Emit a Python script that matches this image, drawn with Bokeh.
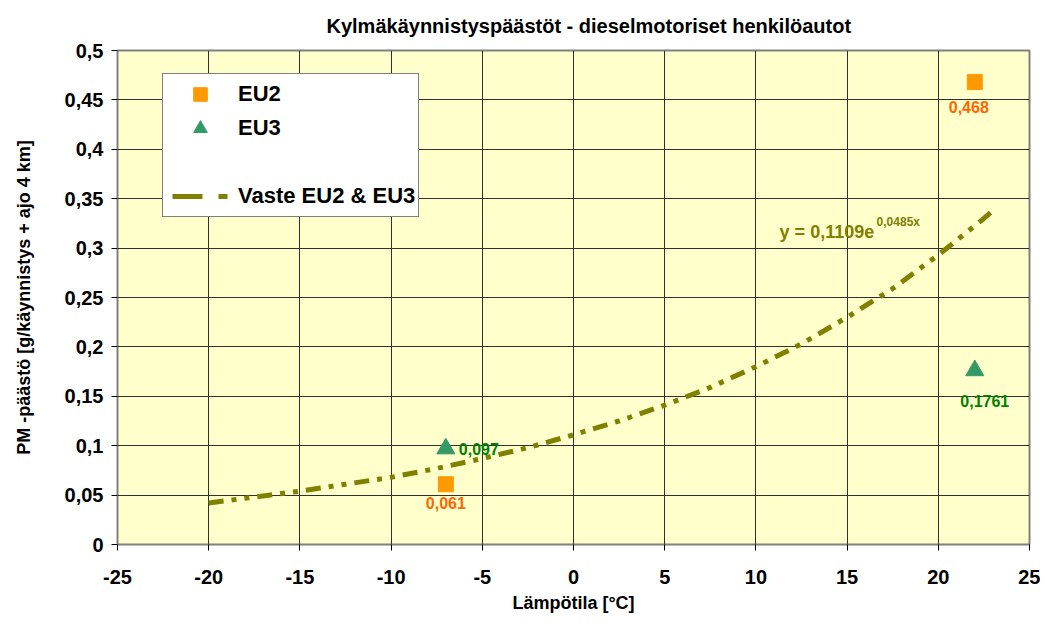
from bokeh.plotting import figure
from bokeh.models import (ColumnDataSource, Legend, LegendItem, Label, CustomJSTickFormatter,
                          FixedTicker, Range1d)
from bokeh.embed import file_html
from bokeh.resources import INLINE

# ---- data ----
eu2_temp = [-7, 22]
eu2_pm = [0.061, 0.468]
eu3_temp = [-7, 22]
eu3_pm = [0.097, 0.1761]
fit_temp = [-20, -17.5, -15, -12.5, -10, -7.5, -5, -2.5, 0, 2.5, 5, 7.5, 10, 12.5, 15, 17.5, 20, 22.5, 23]
fit_pm = [0.042, 0.048, 0.054, 0.061, 0.068, 0.077, 0.087, 0.098, 0.111, 0.125, 0.141, 0.159,
          0.180, 0.203, 0.230, 0.259, 0.293, 0.330, 0.338]
x_ticks = [-25, -20, -15, -10, -5, 0, 5, 10, 15, 20, 25]
y_ticks = [0, 0.05, 0.1, 0.15, 0.2, 0.25, 0.3, 0.35, 0.4, 0.45, 0.5]
title_text = "Kylmäkäynnistyspäästöt - dieselmotoriset henkilöautot"
fit_equation = "y = 0,1109e"
fit_exponent = "0,0485x"

FONT = "Liberation Sans"
OLIVE = "#808000"

p = figure(width=1040, height=618, output_backend="svg", toolbar_location=None,
           x_range=Range1d(-25, 25), y_range=Range1d(0, 0.5),
           min_border_left=117, min_border_right=11, min_border_top=50, min_border_bottom=74)

p.title.text = title_text
p.title.align = "left"
p.title.offset = 209
p.title.vertical_align = "middle"
p.title.standoff = 26
p.title.text_font = FONT
p.title.text_font_size = "20px"
p.title.text_font_style = "bold"
p.title.text_color = "black"

p.background_fill_color = "#FFFFCC"
p.border_fill_color = "white"
p.outline_line_color = "#808080"
p.outline_line_width = 2

for ax in (p.xaxis[0], p.yaxis[0]):
    ax.major_label_text_font = FONT
    ax.major_label_text_font_size = "20px"
    ax.major_label_text_font_style = "bold"
    ax.major_label_text_color = "black"
    ax.axis_label_text_font = FONT
    ax.axis_label_text_font_size = "18px"
    ax.axis_label_text_font_style = "bold"
    ax.axis_label_text_color = "black"
    ax.minor_tick_line_color = None
    ax.major_tick_in = 0
    ax.major_tick_out = 6
    ax.major_tick_line_color = "black"
    ax.axis_line_color = "#808080"

p.xaxis.ticker = FixedTicker(ticks=x_ticks)
p.yaxis.ticker = FixedTicker(ticks=y_ticks)
p.xaxis.formatter = CustomJSTickFormatter(code="return tick.toFixed(0);")
p.yaxis.formatter = CustomJSTickFormatter(
    code="return tick.toFixed(2).replace(/0+$/,'').replace(/\\.$/,'').replace('.',',');")
p.xaxis.axis_label = "Lämpötila [°C]"
p.yaxis.axis_label = "PM -päästö [g/käynnistys + ajo 4 km]"
p.xaxis.major_label_standoff = 19
p.yaxis.major_label_standoff = 8
p.xaxis.axis_label_standoff = 6
p.yaxis.axis_label_standoff = 28

p.grid.grid_line_color = "#303030"
p.grid.grid_line_width = 1
p.xgrid.ticker = FixedTicker(ticks=x_ticks)
p.ygrid.ticker = FixedTicker(ticks=y_ticks)

# fit curve
fit_src = ColumnDataSource(dict(x=fit_temp, y=fit_pm))
p.line("x", "y", source=fit_src, line_color=OLIVE, line_width=5, line_dash="15 8 5 8 5 8")
# legend-only renderer for fit line
leg_line = p.line(x=[float("nan")], y=[float("nan")], line_color=OLIVE, line_width=5,
                  line_dash="30 16 9 20", line_dash_offset=-6)

eu2 = p.scatter(eu2_temp, eu2_pm, marker="square", size=15, fill_color="#FF9900",
                line_color="#FF9900")
eu3 = p.scatter(eu3_temp, eu3_pm, marker="triangle", size=18, fill_color="#339966",
                line_color="#339966")
blank = p.scatter(x=[float("nan")], y=[float("nan")], size=0, alpha=0)

lbl_kw = dict(text_font=FONT, text_font_size="16px", text_font_style="bold",
              text_baseline="middle")
def fmt(v):
    return str(v).replace(".", ",")

p.add_layout(Label(x=eu2_temp[0], y=eu2_pm[0], text=fmt(eu2_pm[0]), text_color="#FF6600",
                   text_align="center", y_offset=-19, **lbl_kw))
p.add_layout(Label(x=eu2_temp[1], y=eu2_pm[1], text=fmt(eu2_pm[1]), text_color="#FF6600",
                   text_align="center", x_offset=-6, y_offset=-25, **lbl_kw))
p.add_layout(Label(x=eu3_temp[0], y=eu3_pm[0], text=fmt(eu3_pm[0]), text_color="#008000",
                   text_align="left", x_offset=13, y_offset=0, **lbl_kw))
p.add_layout(Label(x=eu3_temp[1], y=eu3_pm[1], text=fmt(eu3_pm[1]), text_color="#008000",
                   text_align="center", x_offset=10, y_offset=-30, **lbl_kw))

# equation
p.add_layout(Label(x=11.3, y=0.3158, text=fit_equation, text_color=OLIVE, text_font=FONT,
                   text_font_size="18px", text_font_style="bold", text_baseline="alphabetic"))
p.add_layout(Label(x=11.3, y=0.3158, x_offset=97, y_offset=10, text=fit_exponent,
                   text_color=OLIVE, text_font=FONT, text_font_size="12px",
                   text_font_style="bold", text_baseline="alphabetic"))

legend = Legend(items=[LegendItem(label="EU2", renderers=[eu2]),
                       LegendItem(label="EU3", renderers=[eu3]),
                       LegendItem(label=" ", renderers=[blank]),
                       LegendItem(label="Vaste EU2 & EU3", renderers=[leg_line])],
                location=(45, 327), orientation="vertical",
                label_text_font=FONT, label_text_font_size="22px", label_text_font_style="bold",
                label_text_color="black", glyph_width=68, glyph_height=34, label_height=34,
                spacing=0, padding=3, margin=0, label_standoff=4,
                border_line_color="black", border_line_width=1,
                background_fill_color="white", background_fill_alpha=1.0)
p.add_layout(legend, "center")

open("out.html", "w").write(file_html(p, INLINE))
